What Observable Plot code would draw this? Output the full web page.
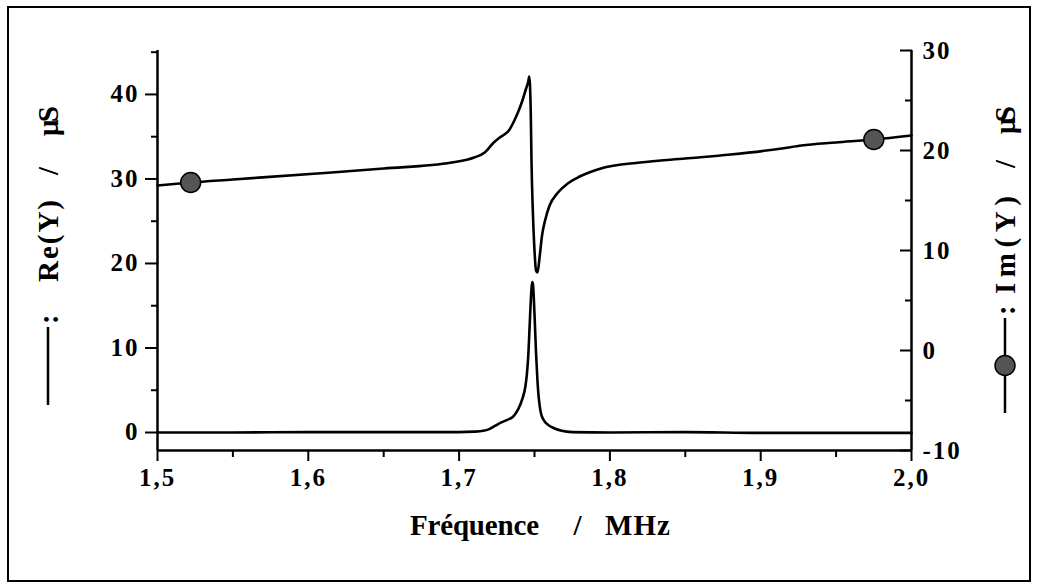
<!DOCTYPE html>
<html><head><meta charset="utf-8">
<script src="https://cdn.jsdelivr.net/npm/d3@7"></script>
<script src="https://cdn.jsdelivr.net/npm/@observablehq/plot@0.6"></script>
<style>
html,body{margin:0;padding:0;background:#fff;}
#chart{width:1037px;height:585px;}
</style></head><body><div id="chart"></div>
<script>
// ---- data ----
const reFreq   = [1.500,1.550,1.600,1.650,1.700,1.710,1.716,1.720,1.724,1.728,1.732,1.736,1.739,1.742,1.744,1.745,1.746,1.747,1.748,1.7485,1.749,1.750,1.751,1.752,1.754,1.756,1.759,1.763,1.768,1.775,1.800,1.850,1.900,1.950,2.000];
const reValues = [0.0,0.0,0.05,0.05,0.05,0.1,0.2,0.4,0.8,1.2,1.5,1.9,2.7,4.0,5.5,7.0,9.5,13.5,17.0,17.8,17.5,14.0,9.5,6.0,2.5,1.5,0.9,0.5,0.2,0.05,0.0,0.05,-0.05,-0.05,-0.05];

const imFreq   = [1.500,1.522,1.550,1.606,1.650,1.695,1.710,1.717,1.723,1.727,1.730,1.733,1.736,1.739,1.742,1.744,1.746,1.7465,1.7475,1.748,1.749,1.750,1.751,1.752,1.7535,1.755,1.757,1.760,1.765,1.772,1.780,1.794,1.820,1.850,1.880,1.914,1.927,1.950,1.975,2.000];
const imValues = [16.5,16.8,17.1,17.7,18.2,18.8,19.3,19.8,20.8,21.3,21.6,22.0,22.8,23.8,25.0,26.0,27.0,27.4,24.0,19.0,13.5,10.0,8.0,7.8,9.5,11.5,13.0,14.5,15.7,16.7,17.4,18.2,18.8,19.2,19.6,20.2,20.5,20.8,21.1,21.5];

const markerFreq   = [1.522, 1.975];
const markerValues = [16.8, 21.1];

const xTicks = [1.5, 1.6, 1.7, 1.8, 1.9, 2.0];
const xTickLabels = ["1,5", "1,6", "1,7", "1,8", "1,9", "2,0"];
const xMinorTicks = [1.55, 1.65, 1.75, 1.85, 1.95];
const leftTicks = [0, 10, 20, 30, 40];
const leftTickLabels = ["0", "10", "20", "30", "40"];
const leftMinorTicks = [5, 15, 25, 35, 45];
const rightTicks = [-10, 0, 10, 20, 30];
const rightTickLabels = ["-10", "0", "10", "20", "30"];
const rightMinorTicks = [-5, 5, 15, 25];

const xDomain = [1.5, 2.0];
const leftDomain = [-2.13, 45.2];
const rightDomain = [-10, 30];

const xTitle = ["Fréquence", "/", "MHz"];
const leftTitle = ["Re(Y)", "/", "μS"];
const rightTitle = ["Im(Y)", "/", "μS"];

// ---- build ----
const toLeft = v => leftDomain[0] + (v - rightDomain[0]) / (rightDomain[1] - rightDomain[0]) * (leftDomain[1] - leftDomain[0]);
const reData = reFreq.map((f, i) => ({f, v: reValues[i]}));
const imData = imFreq.map((f, i) => ({f, v: toLeft(imValues[i])}));
const markerData = markerFreq.map((f, i) => ({f, v: toLeft(markerValues[i])}));
const xLab = new Map(xTicks.map((t, i) => [t, xTickLabels[i]]));
const lLab = new Map(leftTicks.map((t, i) => [t, leftTickLabels[i]]));
const rT = rightTicks.map(toLeft);
const rLab = new Map(rT.map((t, i) => [t, rightTickLabels[i]]));

const font = '"Liberation Serif","Times New Roman",serif';
const AX = 2.5;
const FS = 25;

const plot = Plot.plot({
  width: 1037, height: 585,
  marginLeft: 157, marginRight: 126, marginTop: 50, marginBottom: 135,
  style: {fontFamily: font, fontSize: FS + "px", fontWeight: "bold", background: "white", overflow: "visible", color: "black", letterSpacing: "2px"},
  x: {domain: xDomain, axis: null},
  y: {domain: leftDomain, axis: null},
  marks: [
    Plot.axisX(xMinorTicks, {anchor: "bottom", tickSize: 7, strokeWidth: 2, tickFormat: () => "", label: null}),
    Plot.axisX(xTicks, {anchor: "bottom", tickSize: 11, tickPadding: 7, strokeWidth: 2, fontSize: FS, fontWeight: "bold", tickFormat: d => xLab.get(d), label: null}),
    Plot.axisY(leftMinorTicks, {anchor: "left", tickSize: 6, strokeWidth: 2, tickFormat: () => "", label: null}),
    Plot.axisY(leftTicks, {anchor: "left", tickSize: 12, tickPadding: 6, strokeWidth: 2, fontSize: FS, fontWeight: "bold", tickFormat: d => lLab.get(d), label: null}),
    Plot.axisY(rightMinorTicks.map(toLeft), {anchor: "right", tickSize: 7, dx: -7, strokeWidth: 2, tickFormat: () => "", label: null}),
    Plot.axisY(rT, {anchor: "right", tickSize: 12, dx: -12, strokeWidth: 2, tickFormat: () => "", label: null}),
    Plot.axisY(rT, {anchor: "right", tickSize: 0, tickPadding: 11, fontSize: FS, fontWeight: "bold", tickFormat: d => rLab.get(d), label: null}),
    Plot.ruleX([xDomain[0], xDomain[1]], {strokeWidth: AX}),
    Plot.ruleY([leftDomain[0]], {strokeWidth: AX}),
    Plot.line(reData, {x: "f", y: "v", stroke: "black", strokeWidth: 2.6, curve: "monotone-x"}),
    Plot.line(imData, {x: "f", y: "v", stroke: "black", strokeWidth: 2.6, curve: "monotone-x"}),
    Plot.dot(markerData, {x: "f", y: "v", r: 10, fill: "#555", stroke: "black", strokeWidth: 1.5})
  ]
});
document.getElementById("chart").appendChild(plot);

const svg = d3.select(plot);
svg.append("rect").attr("x", 8).attr("y", 7).attr("width", 1022).attr("height", 574)
  .attr("fill", "none").attr("stroke", "black").attr("stroke-width", 2);

const tf = 29;
const g = svg.append("g").attr("font-family", font).attr("font-weight", "bold").attr("font-size", tf).attr("fill", "black").style("letter-spacing", "0px");
// x title
[[475, xTitle[0], 130], [578, xTitle[1], 0], [638, xTitle[2], 0]].forEach(([x, t, L]) => {
  const el = g.append("text").attr("x", x).attr("y", 535).attr("text-anchor", "middle").style("letter-spacing", "1px").text(t);
  if (L) el.attr("textLength", L).attr("lengthAdjust", "spacing");
});

function rotLabel(x, parts, ys, lens, lineY, withDot) {
  parts.forEach((t, i) => {
    const el = g.append("text")
      .attr("transform", `translate(${x + 10},${ys[i]}) rotate(-90)`)
      .attr("text-anchor", "middle").text(t);
    if (lens[i]) el.attr("textLength", lens[i]).attr("lengthAdjust", "spacing");
  });
  // colon
  g.append("text").attr("transform", `translate(${x + 10},${lineY[0] - 3}) rotate(-90)`).attr("text-anchor", "start").text(":");
  g.append("line").attr("x1", x).attr("x2", x).attr("y1", lineY[0]).attr("y2", lineY[1])
    .attr("stroke", "black").attr("stroke-width", 2.5);
  if (withDot) g.append("circle").attr("cx", x).attr("cy", (lineY[0] + lineY[1]) / 2).attr("r", 10)
    .attr("fill", "#555").attr("stroke", "black").attr("stroke-width", 1.5);
}
rotLabel(48, leftTitle, [241, 171, 121], [82, 0, 30], [327, 405], false);
rotLabel(1005, rightTitle, [245, 164, 120], [98, 0, 28], [318, 413], true);
</script></body></html>
